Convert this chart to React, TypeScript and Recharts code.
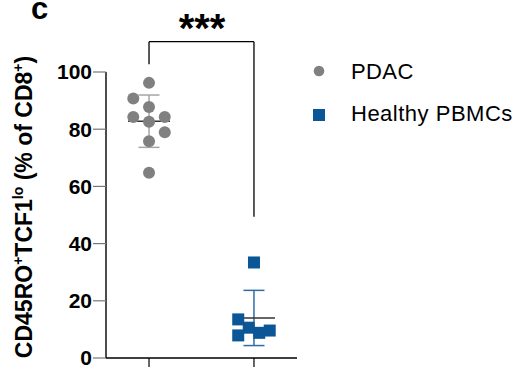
import React from 'react';
import {
  ScatterChart, Scatter, XAxis, YAxis, ErrorBar, ReferenceLine, Customized,
} from 'recharts';

// group positions on the numeric x axis (1 = PDAC, 2 = Healthy PBMCs)
const groupNames = ['PDAC', 'Healthy PBMCs'];
const pdacX = [1, 0.85, 1, 0.85, 1, 1.15, 1.15, 1, 1];
const pdacY = [96.2, 90.7, 87.8, 84.3, 82.6, 84.3, 78.9, 75.8, 64.8];
const healthyX = [2, 1.85, 1.95, 2.05, 2.15, 1.85];
const healthyY = [33.4, 13.5, 10.6, 8.8, 9.6, 7.9];
const groupMeans = [82.8, 14.0];
const groupSd = [9.15, 9.65];
const yTicks = [0, 20, 40, 60, 80, 100];
const bracketY = 110.6;
const bracketLegs = [102.7, 49.4];

const FONT = '"Liberation Sans", Arial, sans-serif';
const GRAY = '#808080';
const BLUE = '#0a5697';

const pdacData = pdacX.map((x, i) => ({ x, y: pdacY[i] }));
const healthyData = healthyX.map((x, i) => ({ x, y: healthyY[i] }));
const pdacSummary = [{ x: 1, y: groupMeans[0], sd: groupSd[0] }];
const healthySummary = [{ x: 2, y: groupMeans[1], sd: groupSd[1] }];

const Circle = (props: any) => <circle cx={props.cx} cy={props.cy} r={6} fill={GRAY} />;
const Square = (props: any) => (
  <rect x={props.cx - 6} y={props.cy - 6} width={12} height={12} fill={BLUE} />
);
const MeanLine = (props: any) => (
  <line x1={props.cx - 21} x2={props.cx + 21} y1={props.cy} y2={props.cy} stroke="#333" strokeWidth={1.5} />
);

const Annotations = () => (
  <g fontFamily={FONT}>
    <text x={31} y={19} fontSize={31} fontWeight="bold" fill="#000">c</text>
    <text x={202} y={42} fontSize={40} fontWeight="bold" textAnchor="middle" fill="#000">***</text>
    <text
      x={32}
      y={207}
      transform="rotate(-90, 32, 207)"
      textAnchor="middle"
      fontSize={23}
      fontWeight="bold"
      fill="#000"
    >
      CD45RO<tspan dy={-9} fontSize={14}>+</tspan>
      <tspan dy={9}>TCF1</tspan>
      <tspan dy={-9} fontSize={14}>lo</tspan>
      <tspan dy={9}> (% of CD8</tspan>
      <tspan dy={-9} fontSize={14}>+</tspan>
      <tspan dy={9}>)</tspan>
    </text>
    {/* legend */}
    <circle cx={319} cy={71} r={5.3} fill={GRAY} />
    <text x={351} y={79} fontSize={22} letterSpacing={0.4} fill="#000">{groupNames[0]}</text>
    <rect x={313} y={109} width={12} height={12} fill={BLUE} />
    <text x={351} y={121} fontSize={22} letterSpacing={0.5} fill="#000">{groupNames[1]}</text>
  </g>
);

export default function App() {
  return (
    <div style={{ position: 'absolute', left: 0, top: 0, background: '#fff' }}>
      <ScatterChart width={517} height={371} margin={{ top: 72, right: 220, bottom: 0, left: 0 }}>
        <XAxis
          type="number"
          dataKey="x"
          domain={[0.59, 2.41]}
          ticks={[1, 2]}
          allowDataOverflow
          height={13}
          tickSize={9}
          tickFormatter={() => ''}
          axisLine={{ stroke: '#000', strokeWidth: 1.4 }}
          tickLine={{ stroke: '#000', strokeWidth: 1.2 }}
        />
        <YAxis
          type="number"
          dataKey="y"
          domain={[0, 100]}
          ticks={yTicks}
          width={106}
          tickSize={13}
          tickMargin={1}
          axisLine={{ stroke: '#000', strokeWidth: 1.4 }}
          tickLine={{ stroke: '#777', strokeWidth: 1.2 }}
          tick={{ fill: '#000', fontSize: 21, fontWeight: 'bold', fontFamily: FONT }}
        />
        <ReferenceLine
          segment={[{ x: 1, y: bracketY }, { x: 2, y: bracketY }]}
          ifOverflow="visible"
          stroke="#000"
          strokeWidth={1.3}
        />
        <ReferenceLine
          segment={[{ x: 1, y: bracketY }, { x: 1, y: bracketLegs[0] }]}
          ifOverflow="visible"
          stroke="#000"
          strokeWidth={1.3}
        />
        <ReferenceLine
          segment={[{ x: 2, y: bracketY }, { x: 2, y: bracketLegs[1] }]}
          ifOverflow="visible"
          stroke="#000"
          strokeWidth={1.3}
        />
        <Scatter data={pdacSummary} shape={MeanLine} isAnimationActive={false}>
          <ErrorBar dataKey="sd" direction="y" width={10.5} stroke="#a6a6a6" strokeWidth={1.5} />
        </Scatter>
        <Scatter data={healthySummary} shape={MeanLine} isAnimationActive={false}>
          <ErrorBar dataKey="sd" direction="y" width={10.5} stroke="#2e6da4" strokeWidth={1.5} />
        </Scatter>
        <Scatter name={groupNames[0]} data={pdacData} shape={Circle} isAnimationActive={false} />
        <Scatter name={groupNames[1]} data={healthyData} shape={Square} isAnimationActive={false} />
        <Customized component={Annotations} />
      </ScatterChart>
    </div>
  );
}
